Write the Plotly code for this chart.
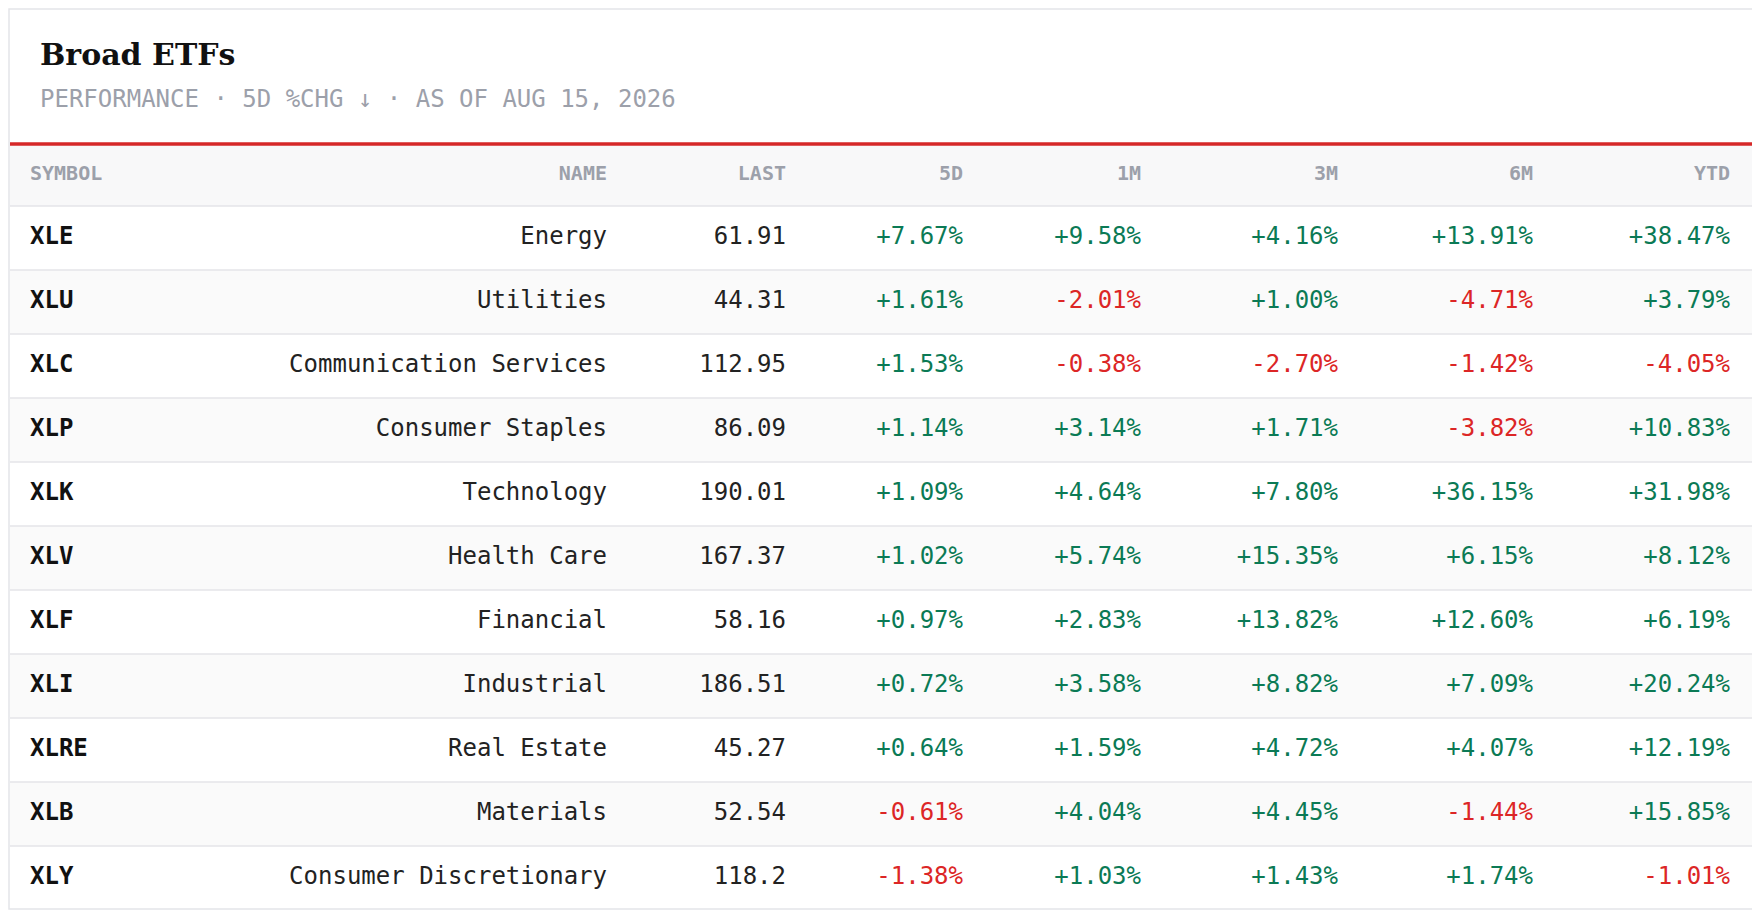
import plotly.graph_objects as go

# data
symbols = ["XLE", "XLU", "XLC", "XLP", "XLK", "XLV", "XLF", "XLI", "XLRE", "XLB", "XLY"]
names = ["Energy", "Utilities", "Communication Services", "Consumer Staples", "Technology",
         "Health Care", "Financial", "Industrial", "Real Estate", "Materials", "Consumer Discretionary"]
last = ["61.91", "44.31", "112.95", "86.09", "190.01", "167.37", "58.16", "186.51", "45.27", "52.54", "118.2"]
chg_5d = [7.67, 1.61, 1.53, 1.14, 1.09, 1.02, 0.97, 0.72, 0.64, -0.61, -1.38]
chg_1m = [9.58, -2.01, -0.38, 3.14, 4.64, 5.74, 2.83, 3.58, 1.59, 4.04, 1.03]
chg_3m = [4.16, 1.00, -2.70, 1.71, 7.80, 15.35, 13.82, 8.82, 4.72, 4.45, 1.43]
chg_6m = [13.91, -4.71, -1.42, -3.82, 36.15, 6.15, 12.60, 7.09, 4.07, -1.44, 1.74]
chg_ytd = [38.47, 3.79, -4.05, 10.83, 31.98, 8.12, 6.19, 20.24, 12.19, 15.85, -1.01]
headers = ["SYMBOL", "NAME", "LAST", "5D", "1M", "3M", "6M", "YTD"]

W, H = 1760, 912
OFF = 8  # page body margin
MONO = "DejaVu Sans Mono"
GREEN, RED = "#0b7a55", "#dc2626"
HEAD_Y, ROW0, ROW_H, TOP = 175, 238, 64, 144

col_x = [30, 607, 786, 963, 1141, 1338, 1533, 1730]
row_y = [ROW0 + i * ROW_H for i in range(len(symbols))]

fig = go.Figure()

# card + bands
shapes = [dict(type="rect", x0=OFF + 1, x1=W - 3, y0=OFF + 1, y1=H - 3, line=dict(color="#e4e5e9", width=1.5),
               fillcolor="white", layer="below")]
shapes.append(dict(type="rect", x0=OFF + 2, x1=W - 4, y0=TOP, y1=TOP + 62, fillcolor="#f8f8f9",
                   line=dict(width=0), layer="below"))
for i, y in enumerate(row_y):
    if i % 2 == 1:
        shapes.append(dict(type="rect", x0=OFF + 2, x1=W - 4, y0=y - ROW_H / 2, y1=y + ROW_H / 2,
                           fillcolor="#fafafa", line=dict(width=0), layer="below"))
    shapes.append(dict(type="line", x0=OFF + 2, x1=W - 4, y0=y - ROW_H / 2, y1=y - ROW_H / 2,
                       line=dict(color="#e4e5e9", width=1.5), layer="below"))
shapes.append(dict(type="line", x0=OFF + 2, x1=W - 4, y0=TOP, y1=TOP, line=dict(color="#d62828", width=3.5)))

hfont = dict(family=MONO, size=20, color="#9ca0aa", weight="bold")
# header
fig.add_trace(go.Scatter(x=[col_x[0]], y=[HEAD_Y], mode="text", text=[headers[0]], textposition="middle right",
                         textfont=hfont, hoverinfo="skip"))
fig.add_trace(go.Scatter(x=col_x[1:], y=[HEAD_Y] * 7, mode="text", text=headers[1:], textposition="middle left",
                         textfont=hfont, hoverinfo="skip"))

# body
fig.add_trace(go.Scatter(x=[col_x[0]] * len(symbols), y=row_y, mode="text", text=symbols,
                         textposition="middle right",
                         textfont=dict(family=MONO, size=24, color="#111111", weight="bold"), hoverinfo="skip"))
fig.add_trace(go.Scatter(x=[col_x[1]] * len(names), y=row_y, mode="text", text=names, textposition="middle left",
                         textfont=dict(family=MONO, size=24, color="#222222"), hoverinfo="skip"))
fig.add_trace(go.Scatter(x=[col_x[2]] * len(last), y=row_y, mode="text", text=last, textposition="middle left",
                         textfont=dict(family=MONO, size=24, color="#222222"), hoverinfo="skip"))
for cx, vals in zip(col_x[3:], [chg_5d, chg_1m, chg_3m, chg_6m, chg_ytd]):
    fig.add_trace(go.Scatter(x=[cx] * len(vals), y=row_y, mode="text",
                             text=[f"{v:+.2f}%" for v in vals], textposition="middle left",
                             textfont=dict(family=MONO, size=24, color=[GREEN if v >= 0 else RED for v in vals]),
                             hoverinfo="skip"))

fig.update_layout(
    width=W, height=H, margin=dict(l=0, r=0, t=0, b=0),
    paper_bgcolor="white", plot_bgcolor="rgba(0,0,0,0)", showlegend=False,
    xaxis=dict(range=[OFF, W + OFF], visible=False, fixedrange=True),
    yaxis=dict(range=[H + OFF, OFF], visible=False, fixedrange=True),
    shapes=shapes,
    annotations=[
        dict(x=38, y=54, xref="x", yref="y", text="<b>Broad ETFs</b>", showarrow=False, xanchor="left",
             font=dict(family="DejaVu Serif", size=30, color="#111111")),
        dict(x=38, y=99, xref="x", yref="y", text="PERFORMANCE · 5D %CHG ↓ · AS OF AUG 15, 2026",
             showarrow=False, xanchor="left", font=dict(family=MONO, size=24, color="#9ca0aa")),
    ],
)

fig.write_html("out.html")
